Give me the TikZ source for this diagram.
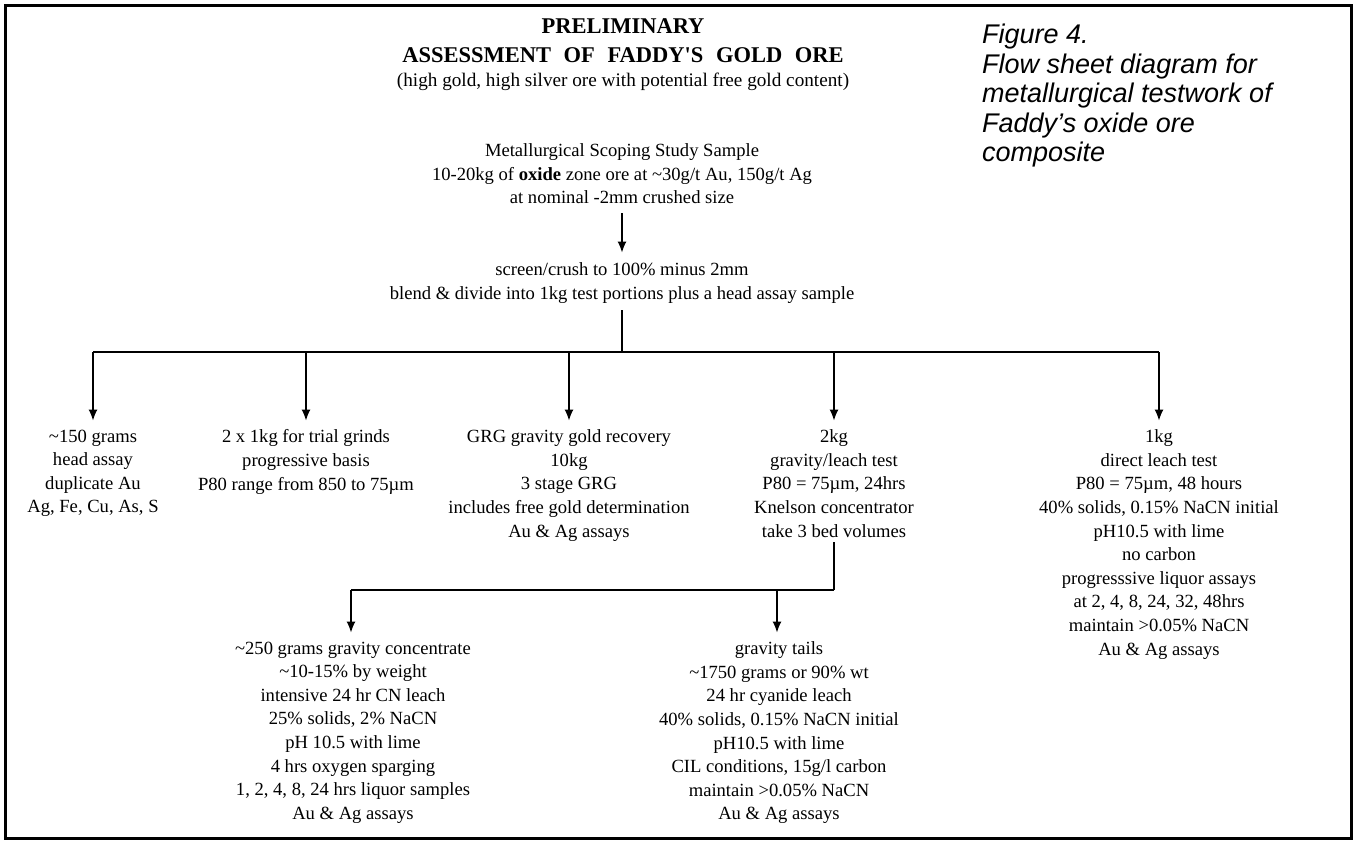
\documentclass[tikz,border=0pt]{standalone}
\usepackage{fontspec}
\setmainfont{Liberation Serif}
\newfontfamily\capfont{Liberation Sans}
\usetikzlibrary{arrows.meta}
\begin{document}
\begin{tikzpicture}[x=1pt,y=-1pt,
  txt/.style={align=center,inner sep=0pt,anchor=north,font=\fontsize{18.6}{23.6}\selectfont},
  ttl/.style={inner sep=0pt,anchor=base,font=\fontsize{22.5}{26}\selectfont\bfseries},
  ln/.style={line width=1.2pt},
  arr/.style={ln,-{Latex[length=11pt,width=9pt]}}]
\useasboundingbox (0,0) rectangle (1357,847);
\draw[line width=3pt] (5.5,5.5) rectangle (1351.5,838);
% title
\node[ttl] (t1) at (623,33) {PRELIMINARY};
\node[ttl] (t2) at (623,62) {ASSESSMENT\hspace{7pt} OF\hspace{7pt} FADDY\textquotesingle S\hspace{7pt} GOLD\hspace{7pt} ORE};
\node[inner sep=0pt,anchor=base,font=\fontsize{19.2}{23.6}\selectfont] (t3) at (623,86) {(high gold, high silver ore with potential free gold content)};
% caption
\node[inner sep=0pt,anchor=north west,align=left,font=\capfont\itshape\fontsize{27}{29.5}\selectfont] (cap) at (982,24) {Figure 4.\\Flow sheet diagram for\\metallurgical testwork of\\Faddy’s oxide ore\\composite};
% main flow
\node[txt] (sample) at (622,143.5) {Metallurgical Scoping Study Sample\\10-20kg of \textbf{oxide} zone ore at \textasciitilde30g/t Au, 150g/t Ag\\at nominal -2mm crushed size};
\node[txt] (screen) at (622,262.5) {screen/crush to 100\% minus 2mm\\blend \& divide into 1kg test portions plus a head assay sample};
\node[txt] (c1) at (93,429.5) {\textasciitilde150 grams\\head assay\\duplicate Au\\Ag, Fe, Cu, As, S};
\node[txt] (c2) at (306,429.5) {2 x 1kg for trial grinds\\progressive basis\\P80 range from 850 to 75µm};
\node[txt] (c3) at (569,429.5) {GRG gravity gold recovery\\10kg\\3 stage GRG\\includes free gold determination\\Au \& Ag assays};
\node[txt] (c4) at (834,429.5) {2kg\\gravity/leach test\\P80 = 75µm, 24hrs\\Knelson concentrator\\take 3 bed volumes};
\node[txt] (c5) at (1159,429.5) {1kg\\direct leach test\\P80 = 75µm, 48 hours\\40\% solids, 0.15\% NaCN initial\\pH10.5 with lime\\no carbon\\progresssive liquor assays\\at 2, 4, 8, 24, 32, 48hrs\\maintain >0.05\% NaCN\\Au \& Ag assays};
\node[txt] (d1) at (353,641.5) {\textasciitilde250 grams gravity concentrate\\\textasciitilde10-15\% by weight\\intensive 24 hr CN leach\\25\% solids, 2\% NaCN\\pH 10.5 with lime\\4 hrs oxygen sparging\\1, 2, 4, 8, 24 hrs liquor samples\\Au \& Ag assays};
\node[txt] (d2) at (779,641.5) {gravity tails\\\textasciitilde1750 grams or 90\% wt\\24 hr cyanide leach\\40\% solids, 0.15\% NaCN initial\\pH10.5 with lime\\CIL conditions, 15g/l carbon\\maintain >0.05\% NaCN\\Au \& Ag assays};
% connectors
\coordinate (bus) at (622,352);
\coordinate (split) at (834,590);
\draw[arr] ([yshift=-9pt]sample.south) -- ([yshift=10pt]screen.north);
\draw[ln] ([yshift=-7pt]screen.south) -- (bus);
\draw[ln] (c1.north |- bus) -- (c5.north |- bus);
\foreach \n in {c1,c2,c3,c4,c5}{
  \draw[arr] (\n.north |- bus) -- ([yshift=9pt]\n.north);
}
\draw[ln] ([yshift=-5pt]c4.south) -- (split);
\draw[ln] (split) -- ([xshift=-2pt]d1.north |- split);
\draw[arr] ([xshift=-2pt]d1.north |- split) -- ([xshift=-2pt,yshift=9pt]d1.north);
\draw[arr] ([xshift=-2pt]d2.north |- split) -- ([xshift=-2pt,yshift=9pt]d2.north);
\end{tikzpicture}
\end{document}
